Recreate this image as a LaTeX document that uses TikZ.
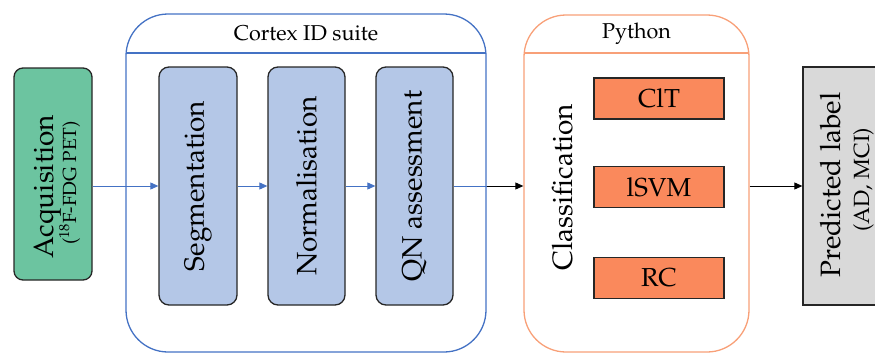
\documentclass[tikz,border=0pt]{standalone}
\usepackage[T1]{fontenc}
\usepackage{mathpazo}
\usetikzlibrary{arrows.meta}
\definecolor{acqgreen}{RGB}{108,196,160}
\definecolor{stepblue}{RGB}{180,199,231}
\definecolor{frameblue}{RGB}{68,114,196}
\definecolor{frameorange}{RGB}{248,160,120}
\definecolor{clsorange}{RGB}{250,137,92}
\definecolor{predgray}{RGB}{217,217,217}
\tikzset{
  stepbox/.style={draw=black!85, line width=1.3pt, rounded corners=10pt, fill=stepblue, minimum width=78pt, minimum height=238pt, inner sep=0pt},
  framebox/.style={line width=1.3pt, rounded corners=42pt, inner sep=0pt},
  clsbox/.style={draw=black!85, line width=1.1pt, fill=clsorange, minimum width=130pt, minimum height=41pt, inner sep=0pt, font=\fontsize{26}{30}\selectfont},
  bigtxt/.style={font=\fontsize{28}{32}\selectfont},
  subtxt/.style={font=\fontsize{19}{22}\selectfont},
  titletxt/.style={font=\fontsize{21.5}{26}\selectfont},
  bluearrow/.style={frameblue, line width=0.9pt, -{Triangle[length=8pt,width=7pt]}},
  blackarrow/.style={black, line width=0.9pt, -{Triangle[length=8pt,width=7pt]}},
}
\begin{document}
\begin{tikzpicture}[x=1pt,y=-1pt]
\useasboundingbox (0,0) rectangle (875,354);
% frames
\node[framebox, draw=frameblue, minimum width=360pt, minimum height=338pt] (cortex) at (306,183) {};
\draw[frameblue, line width=1.1pt] (126.3,53) -- (485.7,53);
\node[titletxt] (cortextitle) at (306,33) {Cortex ID suite};
\node[framebox, draw=frameorange, minimum width=225pt, minimum height=337pt] (python) at (636.5,183.5) {};
\draw[frameorange, line width=1.1pt] (524.3,53) -- (748.7,53);
\node[titletxt] (pythontitle) at (636.5,34) {Python};
% acquisition
\node[draw=black!85, line width=1.3pt, rounded corners=9pt, fill=acqgreen, minimum width=78pt, minimum height=212pt, inner sep=0pt] (acq) at (53,174) {};
\node[bigtxt, rotate=90, anchor=base, inner sep=0pt] (acqtxt) at (53,187) {Acquisition};
\node[subtxt, rotate=90, anchor=base, inner sep=0pt] (acqsub) at (76,183) {(\textsuperscript{18}F-FDG PET)};
% steps
\node[stepbox] (seg) at (198,186) {};
\node[bigtxt, rotate=90] (segtxt) at (seg.center) {Segmentation};
\node[stepbox, minimum width=77pt] (norm) at (306.5,186) {};
\node[bigtxt, rotate=90] (normtxt) at (norm.center) {Normalisation};
\node[stepbox, minimum width=77pt] (qn) at (414.5,186) {};
\node[bigtxt, rotate=90] (qntxt) at (qn.center) {QN assessment};
% classification
\node[bigtxt, rotate=90, anchor=base, inner sep=0pt] (cls) at (572,187) {Classification};
\node[clsbox] (clt) at (659,98.5) {ClT};
\node[clsbox] (lsvm) at (659,187) {lSVM};
\node[clsbox] (rc) at (659,278) {RC};
% predicted
\node[draw=black!85, line width=1.3pt, fill=predgray, minimum width=78pt, minimum height=238pt, inner sep=0pt] (pred) at (842,186) {};
\node[bigtxt, rotate=90, anchor=base, inner sep=0pt] (predtxt) at (840,185) {Predicted label};
\node[font=\fontsize{22}{26}\selectfont, rotate=90, anchor=base, inner sep=0pt] (predsub) at (869,180) {(AD, MCI)};
% connectors
\draw[bluearrow] (acq.east |- seg.west) -- (seg.west);
\draw[bluearrow] (seg.east) -- (norm.west);
\draw[bluearrow] (norm.east) -- (qn.west);
\coordinate (cortexout) at (cortex.east |- qn.east);
\draw[frameblue, line width=0.9pt] (qn.east) -- (cortexout);
\draw[blackarrow] (cortexout) -- (python.west |- cortexout);
\draw[blackarrow] (python.east |- cortexout) -- (pred.west);
\end{tikzpicture}
\end{document}
